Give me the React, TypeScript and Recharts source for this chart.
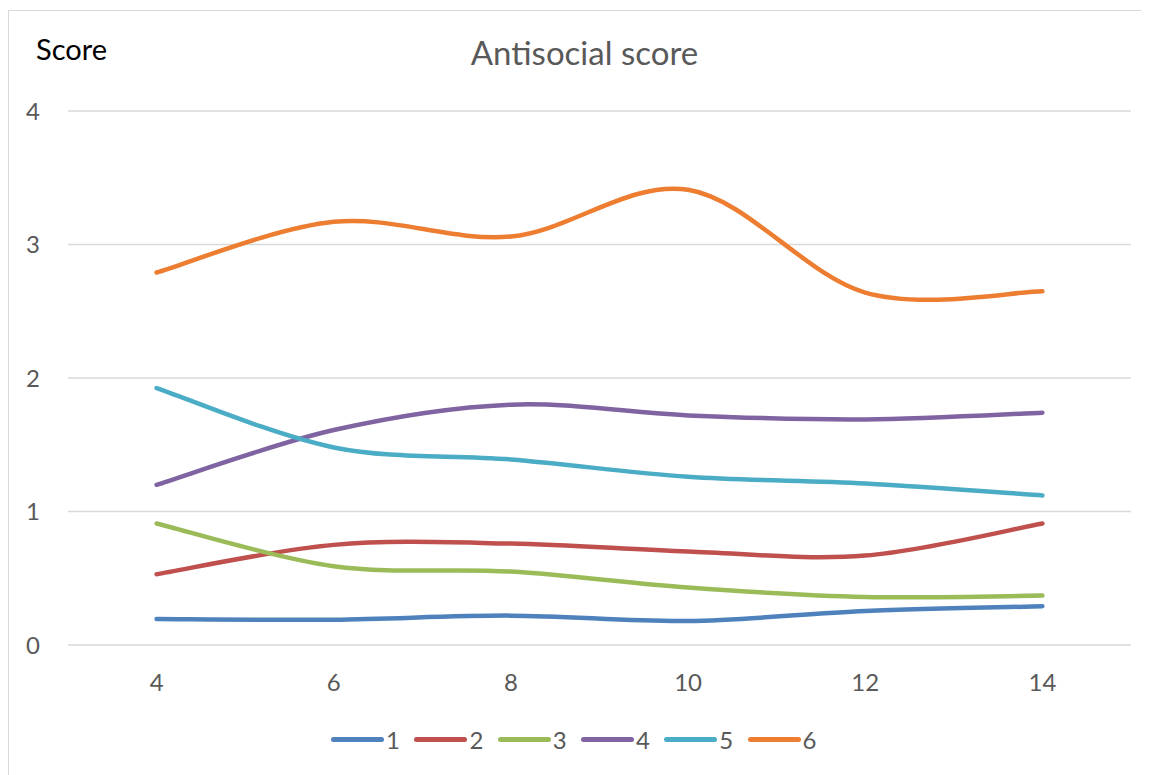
import React from "react";
import { LineChart, Line, XAxis, YAxis, CartesianGrid, Legend } from "recharts";

const categories = ["4", "6", "8", "10", "12", "14"];
const series1 = [0.195, 0.19, 0.22, 0.18, 0.255, 0.29];
const series2 = [0.53, 0.75, 0.76, 0.7, 0.67, 0.91];
const series3 = [0.91, 0.59, 0.55, 0.43, 0.36, 0.37];
const series4 = [1.2, 1.61, 1.8, 1.72, 1.69, 1.74];
const series5 = [1.925, 1.48, 1.39, 1.26, 1.21, 1.12];
const series6 = [2.79, 3.17, 3.06, 3.41, 2.64, 2.65];
const seriesNames = ["1", "2", "3", "4", "5", "6"];
const seriesValues = [series1, series2, series3, series4, series5, series6];
const colors = ["#4F81BD", "#C0504D", "#9BBB59", "#8064A2", "#4BACC6", "#ED7D31"];
const yTicks = [0, 1, 2, 3, 4];

const data = categories.map((c, i) => {
  const row: Record<string, any> = { x: c };
  seriesNames.forEach((n, k) => {
    row["s" + n] = seriesValues[k][i];
  });
  return row;
});

// Excel-like smoothing (Catmull-Rom style bezier)
function excelCurve(context: any) {
  let pts: number[][] = [];
  return {
    areaStart() {},
    areaEnd() {},
    lineStart() {
      pts = [];
    },
    point(x: number, y: number) {
      pts.push([+x, +y]);
    },
    lineEnd() {
      if (!pts.length) return;
      context.moveTo(pts[0][0], pts[0][1]);
      for (let i = 0; i < pts.length - 1; i++) {
        const p0 = pts[Math.max(i - 1, 0)];
        const p1 = pts[i];
        const p2 = pts[i + 1];
        const p3 = pts[Math.min(i + 2, pts.length - 1)];
        context.bezierCurveTo(
          p1[0] + (p2[0] - p0[0]) / 6,
          p1[1] + (p2[1] - p0[1]) / 6,
          p2[0] - (p3[0] - p1[0]) / 6,
          p2[1] - (p3[1] - p1[1]) / 6,
          p2[0],
          p2[1]
        );
      }
    },
  };
}

const FONT = "Lato, 'Open Sans', sans-serif";

export default function App() {
  return (
    <div
      style={{
        position: "relative",
        marginTop: 2,
        width: 1150,
        height: 780,
        border: "1px solid #d9d9d9",
        boxSizing: "border-box",
        fontFamily: FONT,
        background: "#fff",
      }}
    >
      <div
        style={{
          position: "absolute",
          left: 27,
          top: 21,
          fontSize: 29,
          lineHeight: 1.2,
          color: "#000",
        }}
      >
        Score
      </div>
      <div
        style={{
          position: "absolute",
          left: 0,
          width: 1151,
          top: 22,
          textAlign: "center",
          fontSize: 33,
          lineHeight: 1.2,
          color: "#595959",
        }}
      >
        Antisocial score
      </div>
      <LineChart
        width={1140}
        height={764}
        data={data}
        margin={{ top: 100, right: 18, bottom: 8, left: 0 }}
        style={{ fontFamily: FONT }}
      >
        <CartesianGrid vertical={false} stroke="#d9d9d9" strokeWidth={1.5} />
        <XAxis
          dataKey="x"
          padding={{ left: 88.6, right: 88.6 }}
          axisLine={false}
          tickLine={false}
          tickSize={0}
          tickMargin={29}
          height={50}
          tick={{ fill: "#595959", fontSize: 24 }}
        />
        <YAxis
          domain={[0, 4]}
          ticks={yTicks}
          axisLine={false}
          tickLine={false}
          tickSize={0}
          tickMargin={28}
          width={59}
          tick={{ fill: "#595959", fontSize: 24 }}
        />
        <Legend
          verticalAlign="bottom"
          align="center"
          height={72}
          content={() => (
            <div
              style={{
                display: "flex",
                justifyContent: "center",
                paddingTop: 30,
                paddingLeft: 22,
                fontFamily: FONT,
                fontSize: 24,
                lineHeight: "29px",
                color: "#595959",
              }}
            >
              {seriesNames.map((n, k) => (
                <div
                  key={n}
                  style={{ display: "flex", alignItems: "center", width: 83.3 }}
                >
                  <div
                    style={{
                      width: 53,
                      height: 5,
                      borderRadius: 3,
                      background: colors[k],
                      marginRight: 2,
                    }}
                  />
                  <span>{n}</span>
                </div>
              ))}
            </div>
          )}
        />
        {seriesNames.map((n, k) => (
          <Line
            key={n}
            dataKey={"s" + n}
            name={n}
            type={excelCurve as any}
            stroke={colors[k]}
            strokeWidth={4.5}
            strokeLinecap="round"
            dot={false}
            activeDot={false}
            isAnimationActive={false}
          />
        ))}
      </LineChart>
    </div>
  );
}
